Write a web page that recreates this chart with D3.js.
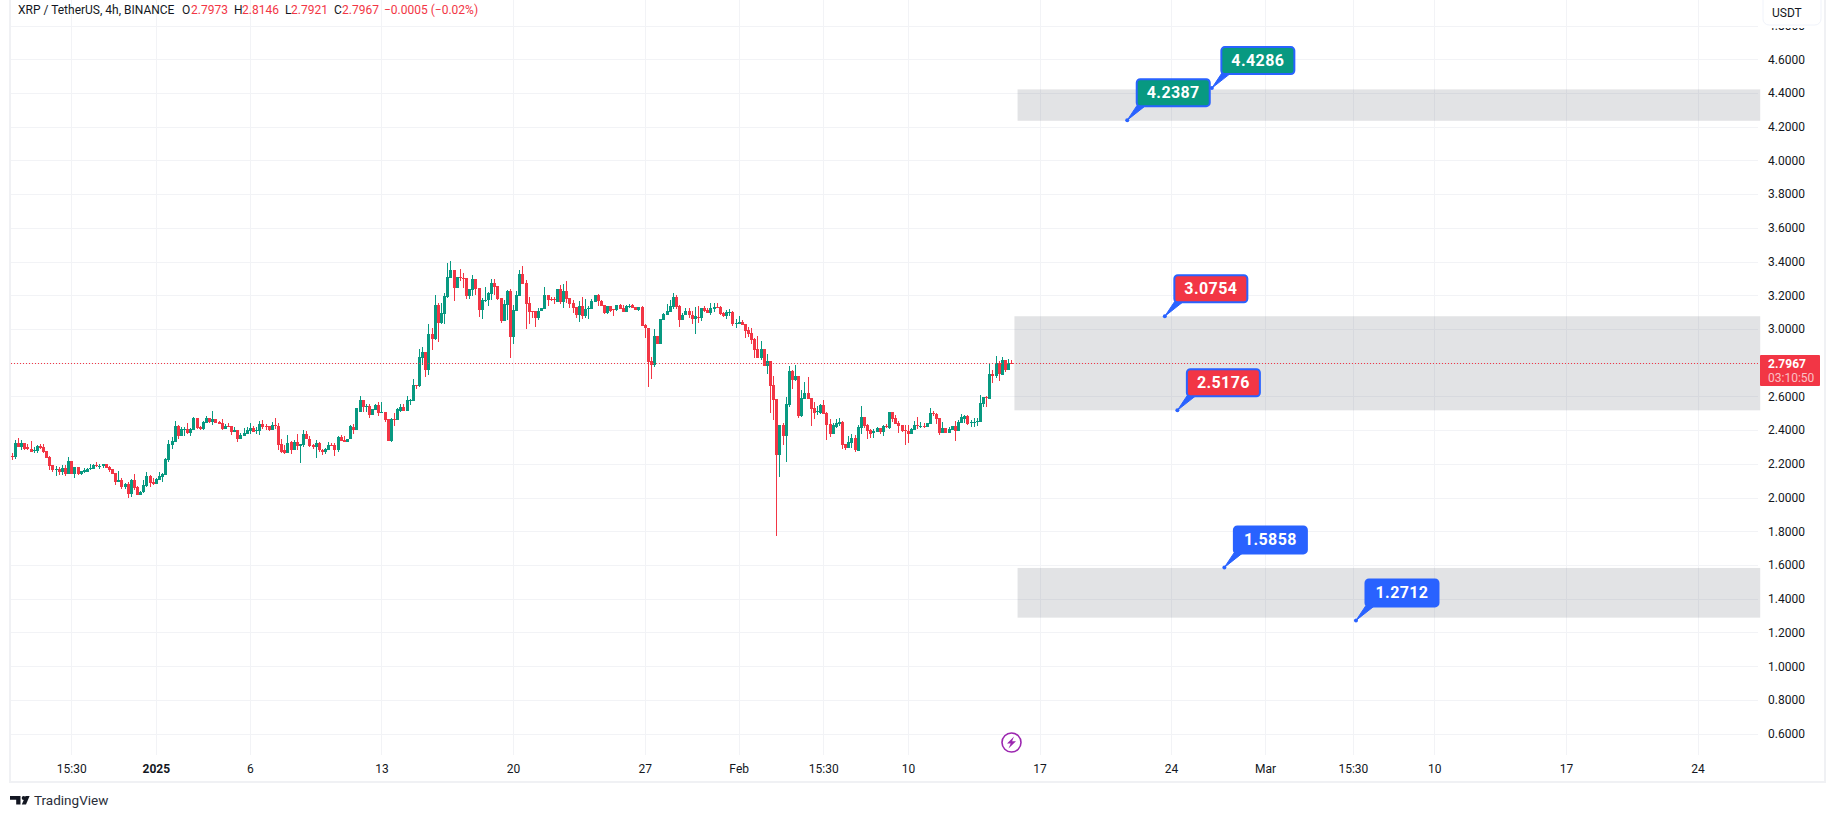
<!DOCTYPE html>
<html>
<head>
<meta charset="utf-8">
<title>XRP / TetherUS</title>
<script src="https://cdn.jsdelivr.net/npm/d3@7/dist/d3.min.js"></script>
<style>
    html, body { margin: 0; padding: 0; background: #fff; }
    svg { display: block; font-family: Roboto, sans-serif; }
</style>
</head>
<body>
<svg id="chart" width="1835" height="818"></svg>
<script>
// Candles, one value per 4h bar
var opens = [
    2.247,2.243,2.324,2.302,2.322,2.298,2.286,2.274,2.276,2.306,
    2.300,2.276,2.241,2.194,2.168,2.170,2.152,2.176,2.140,2.217,
    2.140,2.182,2.140,2.152,2.152,2.170,2.170,2.194,2.188,2.188,
    2.199,2.182,2.170,2.146,2.092,2.105,2.063,2.081,2.022,2.105,
    2.063,2.016,2.034,2.069,2.128,2.093,2.081,2.105,2.122,2.134,
    2.223,2.312,2.330,2.425,2.366,2.405,2.407,2.383,2.401,2.472,
    2.419,2.407,2.445,2.472,2.449,2.466,2.449,2.443,2.407,2.425,
    2.425,2.389,2.401,2.348,2.366,2.377,2.395,2.413,2.395,2.395,
    2.437,2.425,2.425,2.401,2.431,2.425,2.318,2.282,2.265,2.330,
    2.282,2.330,2.306,2.312,2.377,2.348,2.312,2.300,2.324,2.282,
    2.270,2.282,2.312,2.312,2.282,2.360,2.342,2.330,
    2.348,2.419,2.401,2.508,2.579,2.537,2.543,2.490,2.520,2.549,
    2.500,2.508,2.466,2.337,2.466,2.460,2.514,2.537,2.514,2.579,
    2.573,2.668,2.662,2.828,2.864,2.757,2.970,2.941,3.142,3.036,
    3.089,3.190,3.303,3.350,3.243,3.311,3.305,3.303,3.196,3.231,
    3.297,3.243,3.113,3.170,3.172,3.208,3.273,3.255,3.184,3.048,
    3.142,3.226,2.953,3.107,3.196,3.326,3.273,3.154,3.107,3.107,
    3.065,3.107,3.119,3.202,3.178,3.176,3.160,3.237,3.160,3.226,
    3.184,3.154,3.131,3.083,3.137,3.077,3.119,3.119,3.160,3.202,
    3.166,3.142,3.095,3.137,3.117,3.113,3.142,3.125,3.101,3.135,
    3.142,3.129,3.113,3.131,3.024,3.006,2.810,2.787,2.959,2.911,
    3.053,3.083,3.101,3.131,3.190,3.137,3.053,3.083,3.107,3.083,
    3.059,3.073,
    3.065,3.125,3.113,3.095,3.119,3.128,3.130,3.095,3.077,3.099,
    3.101,3.034,3.030,3.041,3.030,2.994,2.976,2.941,2.881,2.828,
    2.881,2.781,2.810,2.668,2.585,2.253,2.431,2.365,2.549,2.751,
    2.697,2.721,2.484,2.585,2.620,2.591,2.531,2.512,2.502,2.549,
    2.502,2.436,2.377,2.419,2.436,2.448,2.318,2.294,2.324,2.353,
    2.278,2.413,2.478,2.431,2.401,2.381,2.389,2.413,2.389,2.426,
    2.413,2.508,2.472,2.442,2.431,2.401,2.395,2.377,2.401,2.431,
    2.425,2.427,2.419,2.436,2.502,2.496,2.472,2.383,2.413,2.383,
    2.401,2.425,2.395,2.442,2.466,2.484,2.446,2.446,2.450,2.448,
    2.555,2.597,2.585,2.733,2.721,2.796,2.727,2.816,2.757,2.7973
];
var closes = [
    2.243,2.324,2.302,2.324,2.286,2.286,2.270,2.282,2.308,2.294,
    2.270,2.235,2.188,2.164,2.169,2.152,2.176,2.140,2.217,2.140,
    2.182,2.140,2.158,2.162,2.170,2.173,2.194,2.188,2.189,2.199,
    2.176,2.164,2.140,2.092,2.105,2.063,2.081,2.022,2.105,2.057,
    2.016,2.034,2.075,2.128,2.087,2.081,2.110,2.128,2.140,2.229,
    2.318,2.336,2.425,2.366,2.407,2.406,2.383,2.407,2.472,2.413,
    2.407,2.449,2.472,2.449,2.466,2.443,2.437,2.407,2.425,2.419,
    2.389,2.401,2.348,2.372,2.383,2.401,2.413,2.389,2.401,2.437,
    2.419,2.419,2.401,2.431,2.425,2.312,2.271,2.265,2.324,2.282,
    2.330,2.306,2.318,2.377,2.348,2.306,2.300,2.324,2.282,2.270,
    2.288,2.312,2.308,2.282,2.360,2.336,2.330,2.348,
    2.425,2.401,2.532,2.579,2.537,2.545,2.490,2.526,2.549,2.502,
    2.506,2.460,2.337,2.466,2.462,2.526,2.537,2.514,2.579,2.581,
    2.668,2.666,2.834,2.864,2.757,2.970,2.941,3.142,3.036,3.095,
    3.196,3.309,3.350,3.243,3.309,3.305,3.301,3.196,3.237,3.297,
    3.237,3.113,3.172,3.172,3.214,3.273,3.249,3.178,3.048,3.148,
    3.226,2.953,3.113,3.202,3.326,3.267,3.148,3.101,3.101,3.065,
    3.107,3.123,3.202,3.172,3.174,3.172,3.237,3.160,3.226,3.178,
    3.148,3.125,3.083,3.137,3.077,3.119,3.125,3.166,3.202,3.166,
    3.137,3.095,3.137,3.107,3.115,3.142,3.119,3.101,3.137,3.137,
    3.125,3.113,3.131,3.018,3.006,2.804,2.787,2.959,2.911,3.059,
    3.089,3.107,3.137,3.190,3.131,3.053,3.083,3.107,3.083,3.059,
    3.075,3.071,
    3.125,3.107,3.095,3.125,3.128,3.125,3.089,3.077,3.101,3.101,
    3.030,3.036,3.041,3.026,2.988,2.970,2.935,2.875,2.828,2.881,
    2.781,2.810,2.662,2.579,2.253,2.431,2.365,2.555,2.751,2.697,
    2.721,2.484,2.591,2.620,2.585,2.525,2.502,2.514,2.549,2.496,
    2.431,2.377,2.431,2.440,2.448,2.312,2.294,2.330,2.353,2.282,
    2.419,2.478,2.425,2.395,2.377,2.395,2.413,2.389,2.425,2.424,
    2.508,2.466,2.436,2.425,2.395,2.395,2.377,2.407,2.431,2.428,
    2.427,2.425,2.442,2.502,2.498,2.466,2.383,2.413,2.383,2.407,
    2.425,2.395,2.448,2.478,2.484,2.436,2.448,2.448,2.454,2.561,
    2.597,2.593,2.733,2.723,2.796,2.733,2.816,2.757,2.798,2.7967
];
var highs = [
    2.263,2.342,2.354,2.340,2.324,2.318,2.336,2.298,2.312,2.318,
    2.318,2.276,2.247,2.194,2.188,2.182,2.194,2.194,2.239,2.217,
    2.182,2.182,2.158,2.176,2.176,2.199,2.199,2.211,2.199,2.199,
    2.199,2.188,2.170,2.146,2.158,2.116,2.087,2.093,2.110,2.140,
    2.069,2.036,2.105,2.152,2.134,2.116,2.116,2.152,2.146,2.235,
    2.342,2.360,2.455,2.431,2.419,2.420,2.443,2.410,2.478,2.472,
    2.425,2.452,2.484,2.474,2.514,2.466,2.455,2.466,2.439,2.443,
    2.425,2.419,2.403,2.383,2.413,2.419,2.443,2.425,2.419,2.455,
    2.461,2.437,2.425,2.449,2.472,2.443,2.348,2.312,2.371,2.336,
    2.342,2.377,2.320,2.401,2.395,2.366,2.318,2.342,2.330,2.288,
    2.292,2.330,2.324,2.324,2.366,2.372,2.366,2.350,
    2.430,2.437,2.532,2.603,2.581,2.555,2.555,2.528,2.555,2.567,
    2.567,2.510,2.466,2.470,2.502,2.530,2.555,2.555,2.603,2.585,
    2.704,2.670,2.882,2.893,2.866,3.030,3.006,3.202,3.154,3.154,
    3.214,3.392,3.403,3.352,3.311,3.356,3.332,3.305,3.239,3.320,
    3.299,3.245,3.184,3.249,3.220,3.297,3.297,3.257,3.186,3.172,
    3.231,3.237,3.142,3.226,3.350,3.374,3.291,3.190,3.107,3.109,
    3.125,3.125,3.249,3.204,3.190,3.190,3.239,3.261,3.267,3.285,
    3.186,3.172,3.133,3.166,3.190,3.178,3.137,3.178,3.204,3.208,
    3.172,3.144,3.139,3.139,3.119,3.144,3.148,3.142,3.142,3.148,
    3.148,3.131,3.133,3.137,3.030,3.008,2.834,3.000,2.961,3.061,
    3.095,3.148,3.172,3.214,3.202,3.142,3.095,3.125,3.125,3.107,
    3.131,3.137,
    3.125,3.136,3.125,3.154,3.154,3.152,3.136,3.101,3.113,3.119,
    3.107,3.059,3.077,3.053,3.032,3.012,3.006,2.947,2.958,2.929,
    2.883,2.852,2.812,2.721,2.587,2.433,2.442,2.597,2.781,2.757,
    2.786,2.723,2.638,2.686,2.715,2.593,2.567,2.543,2.555,2.579,
    2.508,2.466,2.442,2.466,2.472,2.454,2.320,2.365,2.377,2.371,
    2.431,2.543,2.480,2.436,2.407,2.407,2.419,2.415,2.431,2.436,
    2.510,2.510,2.490,2.454,2.433,2.431,2.431,2.413,2.454,2.478,
    2.448,2.442,2.444,2.531,2.514,2.502,2.474,2.448,2.415,2.419,
    2.427,2.454,2.460,2.496,2.490,2.490,2.460,2.472,2.472,2.608,
    2.599,2.603,2.792,2.757,2.840,2.810,2.834,2.818,2.822,2.8146
];
var lows = [
    2.223,2.231,2.298,2.282,2.282,2.282,2.268,2.267,2.267,2.286,
    2.263,2.235,2.164,2.152,2.128,2.134,2.134,2.128,2.140,2.138,
    2.116,2.134,2.134,2.148,2.150,2.164,2.168,2.180,2.172,2.176,
    2.176,2.152,2.138,2.075,2.090,2.051,2.051,1.998,2.004,2.045,
    2.016,2.014,2.028,2.063,2.063,2.077,2.079,2.105,2.093,2.134,
    2.211,2.288,2.330,2.348,2.364,2.366,2.377,2.366,2.399,2.405,
    2.401,2.401,2.443,2.445,2.431,2.441,2.435,2.401,2.405,2.417,
    2.371,2.387,2.330,2.346,2.364,2.375,2.377,2.387,2.377,2.371,
    2.407,2.401,2.395,2.399,2.407,2.282,2.265,2.259,2.263,2.259,
    2.280,2.282,2.205,2.300,2.346,2.300,2.288,2.235,2.270,2.253,
    2.259,2.280,2.306,2.247,2.270,2.334,2.328,2.328,
    2.346,2.377,2.398,2.505,2.508,2.508,2.472,2.488,2.518,2.484,
    2.500,2.449,2.337,2.330,2.425,2.458,2.510,2.512,2.512,2.549,
    2.571,2.644,2.656,2.787,2.715,2.727,2.876,2.935,2.923,3.030,
    3.030,3.186,3.301,3.166,3.241,3.285,3.243,3.178,3.178,3.196,
    3.202,3.071,3.059,3.160,3.137,3.172,3.202,3.172,3.036,3.046,
    3.053,2.828,2.911,3.105,3.194,3.265,3.000,3.030,3.065,3.012,
    3.053,3.105,3.117,3.137,3.166,3.148,3.158,3.148,3.125,3.154,
    3.125,3.095,3.065,3.042,3.059,3.065,3.059,3.117,3.158,3.137,
    3.135,3.089,3.089,3.101,3.077,3.105,3.117,3.099,3.099,3.125,
    3.123,3.111,3.107,3.016,2.947,2.656,2.704,2.775,2.909,2.909,
    3.051,3.081,3.099,3.119,3.119,3.012,3.051,3.081,3.065,3.030,
    2.970,3.038,
    3.047,3.101,3.093,3.083,3.101,3.122,3.083,3.071,3.059,3.077,
    3.018,3.006,3.028,3.024,2.947,2.952,2.911,2.828,2.826,2.816,
    2.779,2.733,2.502,2.460,1.772,2.122,2.312,2.211,2.537,2.644,
    2.692,2.472,2.478,2.583,2.583,2.425,2.466,2.490,2.496,2.494,
    2.342,2.359,2.375,2.413,2.425,2.288,2.282,2.292,2.294,2.270,
    2.276,2.377,2.413,2.348,2.353,2.353,2.387,2.377,2.365,2.411,
    2.407,2.448,2.434,2.383,2.387,2.312,2.324,2.375,2.399,2.407,
    2.413,2.413,2.417,2.434,2.484,2.436,2.371,2.381,2.381,2.381,
    2.399,2.336,2.393,2.440,2.442,2.431,2.419,2.419,2.425,2.446,
    2.537,2.537,2.583,2.680,2.709,2.692,2.725,2.745,2.755,2.7921
];

// Axis ticks
var gridPrices = [0.6,0.8,1.0,1.2,1.4,1.6,1.8,2.0,2.2,2.4,2.6,2.8,3.0,3.2,3.4,3.6,3.8,4.0,4.2,4.4,4.6,4.8];
// 2.8 sits under the last price tag, so it has no label
var priceLabels = [0.6,0.8,1.0,1.2,1.4,1.6,1.8,2.0,2.2,2.4,2.6,3.0,3.2,3.4,3.6,3.8,4.0,4.2,4.4,4.6,4.8];
var timeTickBars = [19,46,76,118,160,202,232,259,286,328,370,400,428,454,496,538];
var timeTickLabels = ["15:30","2025","6","13","20","27","Feb","15:30","10","17","24","Mar","15:30","10","17","24"];

// Shaded zones
var zoneTops = [4.421,3.0754,1.5824];
var zoneBottoms = [4.235,2.5176,1.2877];
var zoneStartBars = [321,320,321];
var zoneEndBar = 558;

// Price notes
var notePrices = [4.2387,4.4286,3.0754,2.5176,1.5858,1.2712];
var noteBars = [356,383,368,372,387,429];
var noteKinds = ["target","target","stop","stop","entry","entry"];

var lastPrice = 2.7967;

var UP = "#089981", DOWN = "#F23645", BLUE = "#2962FF", INK = "#131722", GRID = "#f2f3f6", EDGE = "#f0f1f4";
var FONT = 'Roboto, sans-serif';
var kindFill = { target: UP, stop: DOWN, entry: BLUE };

var plotLeft = 10, plotRight = 1758, plotBottom = 755;

var x = d3.scaleLinear().domain([0, opens.length - 1]).range([11.7, 1011.3]);
var y = d3.scaleLinear().domain([0.6, 4.8]).range([733.6, 25.5]);

var svg = d3.select("#chart");

// Grid
var grid = svg.append("g").attr("shape-rendering", "crispEdges").attr("stroke", GRID);
grid.selectAll(".h").data(gridPrices).enter().append("line")
    .attr("class", "h")
    .attr("x1", plotLeft).attr("x2", plotRight)
    .attr("y1", function(d) { return Math.round(y(d)) + 0.5; })
    .attr("y2", function(d) { return Math.round(y(d)) + 0.5; });
grid.selectAll(".v").data(timeTickBars).enter().append("line")
    .attr("class", "v")
    .attr("y1", 0).attr("y2", plotBottom)
    .attr("x1", function(d) { return Math.round(x(d)) + 0.5; })
    .attr("x2", function(d) { return Math.round(x(d)) + 0.5; });

// Outer frame lines
var frame = svg.append("g").attr("shape-rendering", "crispEdges").attr("fill", EDGE);
frame.append("rect").attr("x", 9).attr("y", 0).attr("width", 2).attr("height", 783);
frame.append("rect").attr("x", 1824).attr("y", 0).attr("width", 2).attr("height", 783);
frame.append("rect").attr("x", 9).attr("y", 781).attr("width", 1817).attr("height", 2);

// Zones
svg.append("g").selectAll("rect").data(zoneTops).enter().append("rect")
    .attr("x", function(d, i) { return x(zoneStartBars[i]); })
    .attr("width", function(d, i) { return x(zoneEndBar) - x(zoneStartBars[i]); })
    .attr("y", function(d) { return y(d); })
    .attr("height", function(d, i) { return y(zoneBottoms[i]) - y(d); })
    .attr("fill", "#787b86").attr("fill-opacity", 0.21);

// Candles
var candles = svg.append("g").attr("shape-rendering", "crispEdges");
var bar = candles.selectAll("g").data(opens).enter().append("g")
    .attr("fill", function(d, i) { return closes[i] >= d ? UP : DOWN; });
bar.append("rect")
    .attr("x", function(d, i) { return Math.round(x(i)); })
    .attr("width", 1)
    .attr("y", function(d, i) { return y(highs[i]); })
    .attr("height", function(d, i) { return y(lows[i]) - y(highs[i]); });
bar.append("rect")
    .attr("x", function(d, i) { return Math.round(x(i)) - 1; })
    .attr("width", 3)
    .attr("y", function(d, i) { return y(Math.max(d, closes[i])); })
    .attr("height", function(d, i) { return Math.max(1, Math.abs(y(d) - y(closes[i]))); });

// Last price line
svg.append("line")
    .attr("x1", plotLeft + 1).attr("x2", plotRight)
    .attr("y1", Math.round(y(lastPrice)) + 0.5).attr("y2", Math.round(y(lastPrice)) + 0.5)
    .attr("stroke", DOWN).attr("stroke-dasharray", "1 2");

// Price axis
var yAxis = d3.axisRight(y).tickValues(priceLabels).tickFormat(d3.format(".4f")).tickSize(0).tickPadding(0);
var yAxisG = svg.append("g").attr("transform", "translate(1768,0)").call(yAxis);
yAxisG.select(".domain").remove();
yAxisG.selectAll("text").attr("font-family", FONT).attr("font-size", 12).attr("fill", INK);

// Time axis
var xAxis = d3.axisBottom(x).tickValues(timeTickBars)
    .tickFormat(function(d, i) { return timeTickLabels[i]; })
    .tickSize(0).tickPadding(0);
var xAxisG = svg.append("g").attr("transform", "translate(0,764)").call(xAxis);
xAxisG.select(".domain").remove();
xAxisG.selectAll("text")
    .attr("font-family", FONT).attr("font-size", 12).attr("fill", INK)
    .attr("font-weight", function(d, i) { return timeTickLabels[i] === "2025" ? 700 : 400; });

// Currency button, it sits on top of the 4.8 label
svg.append("rect").attr("x", 1763).attr("y", 25).attr("width", 58).attr("height", 3).attr("fill", "#fff");
svg.append("rect").attr("x", 1763).attr("y", -6).attr("width", 58).attr("height", 31).attr("rx", 6)
    .attr("fill", "#fff").attr("stroke", "#f0f3fa");
svg.append("text").attr("x", 1772).attr("y", 17).attr("font-size", 12).attr("fill", INK).text("USDT");

// Last price tag
svg.append("rect").attr("x", 1760).attr("y", 355).attr("width", 60).attr("height", 31).attr("rx", 1).attr("fill", DOWN);
svg.append("text").attr("x", 1768).attr("y", 368).attr("font-size", 12).attr("font-weight", 700).attr("fill", "#fff").text("2.7967");
svg.append("text").attr("x", 1768).attr("y", 381.5).attr("font-size", 12).attr("fill", "#fff").attr("fill-opacity", 0.7).text("03:10:50");

// Price notes: dot on the level, callout box up and to the right
var note = svg.selectAll(".note").data(notePrices).enter().append("g")
    .attr("class", "note")
    .attr("transform", function(d, i) { return "translate(" + x(noteBars[i]) + "," + y(d) + ")"; });
note.append("path")
    .attr("d", "M0,0L10,-15L19,-15Z")
    .attr("fill", BLUE).attr("stroke", BLUE).attr("stroke-width", 1);
note.append("rect")
    .attr("x", 9.5).attr("y", -41).attr("width", 73).attr("height", 27).attr("rx", 3.5)
    .attr("fill", function(d, i) { return kindFill[noteKinds[i]]; })
    .attr("stroke", BLUE).attr("stroke-width", 2);
note.append("circle").attr("r", 2).attr("fill", BLUE);
note.append("text")
    .attr("x", 46).attr("y", -22)
    .attr("text-anchor", "middle")
    .attr("font-family", FONT)
    .attr("font-size", 16).attr("font-weight", 700).attr("letter-spacing", 0.4).attr("fill", "#fff")
    .text(function(d) { return d3.format(".4f")(d); });

// Lightning badge
var badge = svg.append("g").attr("transform", "translate(1011.5,742.5)");
badge.append("circle").attr("r", 9.5).attr("fill", "#fff").attr("stroke", "#9c27b0").attr("stroke-width", 1.6);
badge.append("path").attr("d", "M2.5,-6L-4.5,1L-0.8,1L-3,6L4.5,-1.2L0.6,-1.2Z").attr("fill", "#9c27b0");

// Header legend
var legendBits = [
    { x: 18, t: "XRP / TetherUS, 4h, BINANCE", c: INK },
    { x: 182, t: "O", c: INK }, { x: 191, t: "2.7973", c: DOWN },
    { x: 234, t: "H", c: INK }, { x: 242, t: "2.8146", c: DOWN },
    { x: 285, t: "L", c: INK }, { x: 291, t: "2.7921", c: DOWN },
    { x: 334, t: "C", c: INK }, { x: 342, t: "2.7967", c: DOWN },
    { x: 384, t: "\u22120.0005 (\u22120.02%)", c: DOWN }
];
svg.append("g").selectAll("text").data(legendBits).enter().append("text")
    .attr("x", function(d) { return d.x; }).attr("y", 14)
    .attr("font-size", 12).attr("fill", function(d) { return d.c; })
    .text(function(d) { return d.t; });

// TradingView mark
var logo = svg.append("g").attr("fill", INK);
logo.append("path").attr("d", "M10,796H20.5V804.5H16.2V799.8H10Z");
logo.append("circle").attr("cx", 23.6).attr("cy", 798).attr("r", 1.9);
logo.append("path").attr("d", "M25.5,796H29.6L26,804.5H21.8Z");
svg.append("text").attr("x", 34).attr("y", 805).attr("font-size", 13.5).attr("fill", "#2a2e39").text("TradingView");
</script>
</body>
</html>
